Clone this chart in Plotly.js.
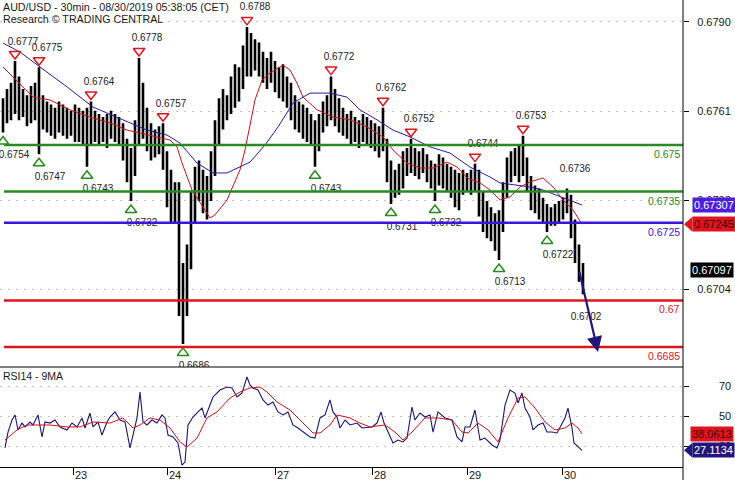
<!DOCTYPE html>
<html>
<head>
<meta charset="utf-8">
<script src="https://cdn.plot.ly/plotly-3.0.1.min.js"></script>
<style>html,body{margin:0;padding:0;background:#fff}#chart{width:735px;height:480px}</style>
</head>
<body>
<div id="chart"></div>
<script>
// ---------- DATA (hourly bars, x = hours from first bar) ----------
const barOpen = [
.6758,.6762,.6765,.6762,.6768,.6763,.6761,.6764,.6760,.6766,
.6758,.6762,.6758,.6760,.6757,.6761,.6758,.6759,.6757,.6760,
.6756,.6758,.6755,.6758,.6756,.6758,.6754,.6757,.6756,.6755,
.6752,.6747,.6742,.6746,.6755,.6762,.6756,.6751,.6750,.6752,
.6750,.6744,.6736,.6733,.6730,.6700,.6705,.6715,.6730,.6738,
.6735,.6731,.6738,.6746,.6755,.6762,.6760,.6765,.6770,.6768,
.6772,.6780,.6778,.6781,.6776,.6778,.6773,.6775,.6772,.6770,
.6771,.6767,.6765,.6761,.6759,.6756,.6758,.6754,.6756,.6752,
.6758,.6761,.6763,.6764,.6759,.6761,.6756,.6758,.6754,.6757,
.6753,.6756,.6752,.6755,.6751,.6754,.6750,.6740,.6736,.6739,
.6742,.6745,.6743,.6747,.6744,.6746,.6742,.6740,.6738,.6741,
.6739,.6742,.6737,.6739,.6736,.6738,.6737,.6739,.6740,.6736,
.6729,.6726,.6724,.6722,.6719,.6726,.6736,.6744,.6741,.6747,
.6745,.6742,.6737,.6732,.6734,.6729,.6727,.6728,.6726,.6729,
.6727,.6731,.6733,.6722,.6715,.6708];
const barHigh = [
.6765,.6768,.6770,.6777,.6772,.6768,.6766,.6769,.6770,.6775,
.6766,.6764,.6763,.6762,.6764,.6763,.6762,.6761,.6763,.6762,
.6761,.6762,.6764,.6761,.6760,.6759,.6760,.6761,.6760,.6759,
.6757,.6752,.6749,.6758,.6778,.6770,.6762,.6757,.6755,.6756,
.6757,.6748,.6742,.6738,.6738,.6712,.6718,.6735,.6743,.6745,
.6742,.6740,.6748,.6758,.6765,.6768,.6766,.6772,.6776,.6775,
.6782,.6788,.6786,.6784,.6783,.6780,.6778,.6780,.6777,.6775,
.6776,.6772,.6770,.6766,.6764,.6763,.6762,.6760,.6758,.6760,
.6764,.6766,.6772,.6768,.6765,.6762,.6760,.6761,.6759,.6758,
.6760,.6759,.6758,.6757,.6756,.6762,.6752,.6745,.6742,.6744,
.6748,.6749,.6752,.6749,.6748,.6749,.6747,.6745,.6744,.6747,
.6746,.6744,.6743,.6742,.6741,.6742,.6741,.6742,.6744,.6742,
.6735,.6732,.6730,.6728,.6729,.6738,.6746,.6748,.6749,.6750,
.6753,.6746,.6740,.6737,.6736,.6733,.6731,.6730,.6731,.6732,
.6733,.6736,.6734,.6726,.6718,.6712];
const barLow = [
.6754,.6757,.6758,.6760,.6758,.6759,.6756,.6757,.6758,.6747,
.6755,.6754,.6753,.6752,.6754,.6753,.6752,.6753,.6751,.6751,
.6750,.6743,.6750,.6751,.6750,.6751,.6749,.6752,.6751,.6750,
.6745,.6738,.6732,.6740,.6750,.6752,.6748,.6745,.6746,.6747,
.6742,.6730,.6725,.6725,.6695,.6686,.6695,.6710,.6725,.6732,
.6728,.6726,.6732,.6740,.6750,.6755,.6758,.6760,.6762,.6764,
.6768,.6772,.6772,.6774,.6772,.6770,.6768,.6770,.6767,.6765,
.6764,.6762,.6758,.6755,.6754,.6752,.6751,.6750,.6743,.6748,
.6754,.6756,.6758,.6756,.6754,.6753,.6752,.6750,.6751,.6749,
.6751,.6750,.6749,.6748,.6746,.6748,.6738,.6731,.6733,.6734,
.6736,.6740,.6741,.6740,.6739,.6741,.6738,.6736,.6732,.6737,
.6736,.6735,.6733,.6730,.6729,.6734,.6735,.6734,.6735,.6727,
.6722,.6720,.6719,.6716,.6713,.6722,.6733,.6738,.6740,.6738,
.6740,.6735,.6729,.6728,.6726,.6725,.6722,.6724,.6724,.6725,
.6726,.6728,.6720,.6712,.6706,.6702];
const barClose = [
.6762,.6765,.6762,.6768,.6763,.6761,.6764,.6760,.6766,.6758,
.6762,.6758,.6760,.6757,.6761,.6758,.6759,.6757,.6760,.6756,
.6758,.6755,.6758,.6756,.6758,.6754,.6757,.6756,.6755,.6752,
.6747,.6742,.6746,.6755,.6762,.6756,.6751,.6750,.6752,.6750,
.6744,.6736,.6733,.6730,.6700,.6705,.6715,.6730,.6738,.6735,
.6731,.6738,.6746,.6755,.6762,.6760,.6765,.6770,.6768,.6772,
.6780,.6778,.6781,.6776,.6778,.6773,.6775,.6772,.6770,.6771,
.6767,.6765,.6761,.6759,.6756,.6758,.6754,.6756,.6752,.6758,
.6761,.6763,.6764,.6759,.6761,.6756,.6758,.6754,.6757,.6753,
.6756,.6752,.6755,.6751,.6754,.6750,.6740,.6736,.6739,.6742,
.6745,.6743,.6747,.6744,.6746,.6742,.6740,.6738,.6741,.6739,
.6742,.6737,.6739,.6736,.6738,.6737,.6739,.6740,.6736,.6729,
.6726,.6724,.6722,.6719,.6726,.6736,.6744,.6741,.6747,.6745,
.6742,.6737,.6732,.6734,.6729,.6727,.6728,.6726,.6729,.6727,
.6731,.6733,.6722,.6715,.6708,.67097];

const maFastX = [0,7.5,11.75,16.75,21.75,26.75,31,34.25,38.5,41.75,43.5,44.75,47.25,49.25,51.75,53,56,59.25,60.5,61.75,63,64.75,66.75,70,71.75,73.5,75,78.5,82.5,86.75,91,95,97.5,101,104.25,107.5,111,113.5,116,119.25,121.75,124.25,126.75,129.25,131.75,135,137.5,140,142.5,144.75];
const maFast = [0.67751,0.67654,0.67645,0.67613,0.67590,0.67571,0.67548,0.67539,0.67526,0.67516,0.67494,0.67442,0.67355,0.67313,0.67265,0.67275,0.67323,0.67420,0.67484,0.67564,0.67645,0.67709,0.67732,0.67757,0.67741,0.67699,0.67654,0.67613,0.67590,0.67581,0.67558,0.67526,0.67484,0.67442,0.67426,0.67426,0.67445,0.67429,0.67394,0.67378,0.67355,0.67323,0.67333,0.67365,0.67381,0.67394,0.67365,0.67323,0.67291,0.67245];
const maSlowX = [0,4.25,9.25,16,22.5,28.5,34.25,36,41,44.25,48.5,52.5,56,59.25,61.75,65.5,68.75,72.5,76.75,81.75,86,89.25,93.5,97.5,101.75,106.75,111.75,116.75,121.75,124.25,128.5,131.75,135,139.25,142.5,144.75];
const maSlow = [0.67828,0.67799,0.67751,0.67687,0.67622,0.67590,0.67558,0.67548,0.67532,0.67506,0.67442,0.67410,0.67410,0.67429,0.67445,0.67500,0.67558,0.67635,0.67667,0.67667,0.67654,0.67613,0.67581,0.67548,0.67526,0.67494,0.67474,0.67429,0.67397,0.67378,0.67371,0.67365,0.67355,0.67333,0.67317,0.67307];

const rsiX = [0.5,1.25,2.25,3,3.75,4.75,5.5,6.75,7.5,8.75,
9.75,10.5,11.75,13,14.25,16,17.25,18.5,19.75,20.5,
21.75,22.5,23.75,24.75,26,26.75,28,29.25,30.5,31.75,
32.5,33.5,34.25,35,36,37.25,38.5,39.75,40.5,41.25,
42.5,43.75,44.75,45.5,46.25,47.5,48.75,49.75,50.5,51.75,
52.5,54.25,56,57.25,58.5,59.75,61,61.75,62.5,63.75,
65,66.25,67.5,68.75,70,71.25,72.5,73.75,75,76.75,
78,79.25,80.5,81.75,82.5,83.5,84.25,85.5,86.75,88.5,
89.75,91.25,92.25,93.5,94.5,95.25,96,97.5,98.75,100,
101,102.25,103,104.25,105.5,106.75,107.5,108.75,110.5,112.25,
113.5,114.75,115.5,116.75,118,119.25,120.5,122.25,123.5,124.25,
125.5,126.75,128,128.75,129.75,130.5,131.75,132.5,133.75,135,
136,137.25,138.5,139.75,140.5,141.25,142.25,142.75,143.75,144.75];
const rsi = [28.7,39.3,47.3,50.7,40.7,45.3,42.7,46,44,50.7,
36,46,45.3,47.3,42.7,40.7,45.3,42.7,48.7,42,
52,42.7,46,37.3,46,49.3,52.7,47.3,46,28.7,
37.3,48.7,66,46,44,47.3,45.3,50.7,48.7,37.3,
36,32,17.3,19.3,44,49.3,52.7,55.3,48.7,57.3,
62.7,67.3,69.3,68.7,62.7,65.3,76,70.7,68.7,67.3,
60.7,57.3,59.3,52.7,50.7,52.7,44,42,39.3,36,
35.3,48.7,50.7,60.7,52.7,49.3,42,47.3,44,45.3,
42,42.7,42.7,45.3,52.7,45.3,40.7,32,34,32.7,
35.3,56,47.3,52,49.3,50.7,39.3,52.7,48.7,47.3,
36,32.7,42.7,42.7,54,34,35.3,30.7,28.7,34,
57.3,67.3,65.3,58.7,65.3,55.3,49.3,40.7,44,45.3,
39.3,39.3,38.7,45.3,48.7,55.3,42,32,29.3,27.1134];
const rsiMaX = [0.5,3.5,6,11.75,16,19.25,22.5,26.75,30,32.5,34.25,36.75,39.25,41.75,44.25,46,48.5,51,53.5,56.75,59.25,61.75,64.25,66,68.5,71.75,74.25,77.5,79.25,81.75,83.5,86.75,89.25,91.75,95.5,98,100,102.25,105.5,108.75,112.25,114.75,116.25,118.75,121.25,123.75,126.25,128.75,130.5,133,135.5,138,140.5,142.25,143.75,144.75];
const rsiMa = [34,40.7,44,44,42.7,42.7,46,45.3,48.7,42,44,48.7,47.3,42,32.7,29.3,35.3,48.7,52.7,62,66,68.7,69.3,66,59.3,54,47.3,38.7,38.7,44,50.7,48.7,45.3,42.7,44,39.3,34,39.3,48.7,48.7,47.3,39.3,38.7,45.3,40.7,32.7,48.7,62,62.7,55.3,46,40.7,42,45.3,42,38.0613];

const highPivotX = [3,9,22,34,40,61,82,95,102,118,130];
const highPivot  = [0.6777,0.6775,0.6764,0.6778,0.6757,0.6788,0.6772,0.6762,0.6752,0.6744,0.6753];
const lowPivotX  = [0,9,21,32,45,78,97,108,124,136];
const lowPivot   = [0.6754,0.6747,0.6743,0.6732,0.6686,0.6743,0.6731,0.6732,0.6713,0.6722];
const extraHighX = [141], extraHigh = [0.6736];
const extraLowX  = [143], extraLow  = [0.6702];

const levelValues = [0.675, 0.6735, 0.6725, 0.67, 0.6685];
const levelLabels = ['0.675', '0.6735', '0.6725', '0.67', '0.6685'];

const dayTicks  = [17.5, 41, 68, 92.25, 116, 139.75];
const dayLabels = ['23', '24', '27', '28', '29', '30'];
const priceTicks = [0.67036, 0.67323, 0.67609, 0.67896];
const priceTickText = ['0.6704', '0.6733', '0.6761', '0.6790'];
const rsiTicks = [30, 50, 70];
const rsiTickText = ['30', '50', '70'];

const lastX = 144, lastPrice = 0.67097;
const forecastX = 148.75, forecast = 0.66834;
const lastFast = 0.67245, lastSlow = 0.67307;
const lastRsi = 27.1134, lastRsiMa = 38.0613;

// ---------- STYLE ----------
const FONT = 'Liberation Sans, Arial, sans-serif';
const RED = '#e0141e', GREEN = '#2a8a22', BLUE = '#3c14dc', NAVY = '#23167a';
const levelColors = [GREEN, GREEN, BLUE, RED, RED];
const PLOT_W = 683, PRICE_PX = 31080; // px per price unit (for label offsets)

const barX = barOpen.map((_, i) => i);
const traces = [
  {type:'ohlc', x:barX, open:barOpen, high:barHigh, low:barLow, close:barClose,
   increasing:{line:{color:'#000', width:2.6}}, decreasing:{line:{color:'#000', width:2.6}},
   tickwidth:0.3, hoverinfo:'skip', xaxis:'x', yaxis:'y'},
  {type:'scatter', mode:'lines', x:maSlowX, y:maSlow, line:{color:'#2a1aa8', width:1}, hoverinfo:'skip'},
  {type:'scatter', mode:'lines', x:maFastX, y:maFast, line:{color:'#d0101a', width:1}, hoverinfo:'skip'},
  {type:'scatter', mode:'markers', x:highPivotX, y:highPivot.map(v => v + 7/PRICE_PX),
   marker:{symbol:'triangle-down-open', size:10, color:RED, line:{width:1.5, color:RED}}, hoverinfo:'skip', cliponaxis:true},
  {type:'scatter', mode:'markers', x:lowPivotX, y:lowPivot.map(v => v - 9/PRICE_PX),
   marker:{symbol:'triangle-up-open', size:10, color:GREEN, line:{width:1.5, color:GREEN}}, hoverinfo:'skip', cliponaxis:true},
  {type:'scatter', mode:'text', x:highPivotX.concat(extraHighX).map(x => x + 2),
   y:highPivot.concat(extraHigh).map(v => v + 19/PRICE_PX),
   text:highPivot.concat(extraHigh).map(v => v.toFixed(4)),
   textfont:{family:FONT, size:10, color:'#222'}, hoverinfo:'skip', cliponaxis:true},
  {type:'scatter', mode:'text', x:lowPivotX.concat(extraLowX).map(x => x + 2.75),
   y:lowPivot.concat(extraLow).map(v => v - 23/PRICE_PX),
   text:lowPivot.concat(extraLow).map(v => v.toFixed(4)),
   textfont:{family:FONT, size:10, color:'#222'}, hoverinfo:'skip', cliponaxis:true},
  {type:'scatter', mode:'lines', x:rsiX, y:rsi, xaxis:'x', yaxis:'y2', line:{color:'#1c1478', width:1.1}, hoverinfo:'skip'},
  {type:'scatter', mode:'lines', x:rsiMaX, y:rsiMa, xaxis:'x', yaxis:'y2', line:{color:'#d0101a', width:1}, hoverinfo:'skip'}
];

const SPLIT = 100/467;
const shapes = [];
levelValues.forEach((v, k) => shapes.push({type:'line', xref:'paper', yref:'y', x0:4/PLOT_W, x1:1, y0:v, y1:v,
  line:{color:levelColors[k], width:2.5}, layer:'above'}));
shapes.push({type:'line', xref:'paper', yref:'paper', x0:0, x1:1, y0:SPLIT, y1:SPLIT, line:{color:'#000', width:1}});
shapes.push({type:'line', xref:'paper', yref:'paper', x0:1, x1:1, y0:-0.04, y1:1, line:{color:'#000', width:1}});
function pointer(yref, v, halfUnits, color) {
  const a = 1 + 1/PLOT_W, b = 1 + 9.5/PLOT_W;
  return {type:'path', xref:'paper', yref:yref, layer:'above',
    path:`M ${a},${v} L ${b},${v + halfUnits} L ${b},${v - halfUnits} Z`,
    fillcolor:color, line:{width:0}};
}
shapes.push(pointer('y', lastFast, 7.5/PRICE_PX, RED));
shapes.push(pointer('y2', lastRsi, 7.5/1.5, NAVY));

const annotations = [
  {xref:'paper', yref:'paper', x:0, y:1, xanchor:'left', yanchor:'top', xshift:1, yshift:1, showarrow:false,
   text:'AUD/USD - 30min - 08/30/2019 05:38:05 (CET)', font:{family:FONT, size:10.7, color:'#1a1a1a'}},
  {xref:'paper', yref:'paper', x:0, y:1, xanchor:'left', yanchor:'top', xshift:1, yshift:-11, showarrow:false,
   text:'Research © TRADING CENTRAL', font:{family:FONT, size:10.7, color:'#1a1a1a'}},
  {xref:'paper', yref:'paper', x:0, y:SPLIT, xanchor:'left', yanchor:'top', xshift:1, yshift:-1, showarrow:false,
   text:'RSI14 - 9MA', font:{family:FONT, size:10.5, color:'#1a1a1a'}},
  {xref:'x', yref:'y', axref:'x', ayref:'y', x:forecastX, y:forecast, ax:lastX, ay:lastPrice, text:'',
   showarrow:true, arrowhead:2, arrowsize:1.4, arrowwidth:2.2, arrowcolor:NAVY, standoff:0}
];
levelValues.forEach((v, k) => annotations.push({xref:'paper', yref:'y', x:1, y:v, xanchor:'right', yanchor:'top',
  xshift:-1, yshift:-1, showarrow:false, text:levelLabels[k], font:{family:FONT, size:10.5, color:levelColors[k]}}));
// RSI axis labels, right-aligned like the reference
rsiTicks.forEach((v, k) => annotations.push({xref:'paper', yref:'y2', x:1, y:v, xanchor:'right', yanchor:'middle',
  xshift:50, showarrow:false, text:rsiTickText[k], font:{family:FONT, size:11, color:'#1a1a1a'}}));
function valueBox(yref, v, digits, bg, fg, shift) {
  return {xref:'paper', yref:yref, x:1, y:v, xanchor:'left', yanchor:'middle', xshift:shift, showarrow:false,
    text:v.toFixed(digits), bgcolor:bg, borderpad:1, font:{family:FONT, size:11, color:fg}};
}
annotations.push(valueBox('y', lastSlow, 5, '#4b1ee0', '#fff', 9));
annotations.push(valueBox('y', lastFast, 5, RED, '#3a0000', 9));
annotations.push(valueBox('y', lastPrice, 5, '#000', '#fff', 7));
annotations.push(valueBox('y2', lastRsiMa, 4, RED, '#3a0000', 7));
annotations.push(valueBox('y2', lastRsi, 4, NAVY, '#fff', 9));

const layout = {
  width:735, height:480, margin:{l:0, r:52, t:0, b:13}, autosize:false,
  paper_bgcolor:'#fff', plot_bgcolor:'#fff', showlegend:false,
  font:{family:FONT, size:11, color:'#1a1a1a'},
  xaxis:{range:[-0.75, 170], anchor:'y2', tickvals:dayTicks, ticktext:dayLabels, ticks:'outside', ticklen:7,
    tickcolor:'#000', showline:true, linecolor:'#000', linewidth:1, showgrid:false, zeroline:false,
    rangeslider:{visible:false}, ticklabelshift:8, ticklabelstandoff:-9, tickfont:{size:11}, fixedrange:true},
  yaxis:{domain:[SPLIT, 1], range:[0.667857, 0.679665], side:'right', anchor:'x', tickvals:priceTicks,
    ticktext:priceTickText, ticks:'outside', ticklen:5, tickcolor:'#000', showgrid:true, gridcolor:'#c4c4c4',
    griddash:'2px,6px', zeroline:false, showline:false, ticklabelstandoff:6, automargin:false, fixedrange:true},
  yaxis2:{domain:[0, SPLIT], range:[16, 82.67], side:'right', anchor:'x', tickvals:rsiTicks, ticks:'outside',
    ticklen:5, tickcolor:'#000', showgrid:true, gridcolor:'#c4c4c4', griddash:'2px,6px', zeroline:false,
    showline:false, showticklabels:false, automargin:false, fixedrange:true},
  shapes:shapes, annotations:annotations
};
Plotly.newPlot('chart', traces, layout, {staticPlot:true, displayModeBar:false});
</script>
</body>
</html>
